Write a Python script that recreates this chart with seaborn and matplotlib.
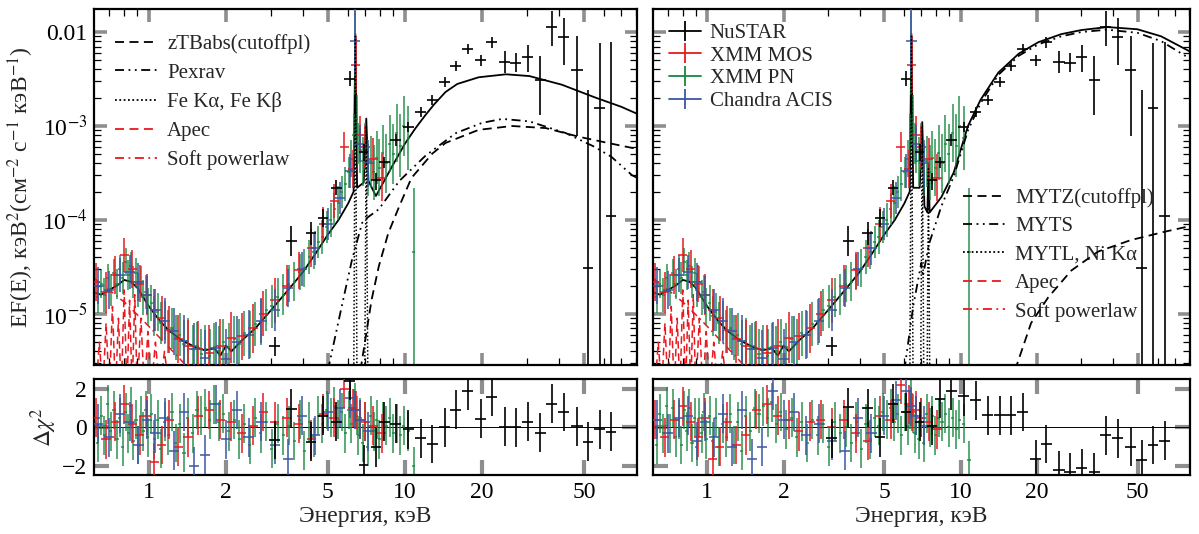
import numpy as np
import pandas as pd
import matplotlib
matplotlib.use("Agg")
import matplotlib.pyplot as plt
import seaborn as sns
from matplotlib.lines import Line2D
from matplotlib.ticker import FixedLocator, FixedFormatter, NullFormatter

# ---------------------------------------------------------------- data
# XMM PN: energy (keV), EF(E), half error (dex), residuals (left fit, right fit)
pn_e = [0.61, 0.63, 0.65, 0.67, 0.69, 0.71, 0.73, 0.75, 0.77, 0.79,
        0.81, 0.83, 0.85, 0.87, 0.89, 0.91, 0.93, 0.95, 0.97, 0.99,
        1.02, 1.05, 1.08, 1.11, 1.15, 1.19, 1.23, 1.27, 1.32, 1.37,
        1.42, 1.48, 1.54, 1.60, 1.66, 1.73, 1.80, 1.87, 1.95, 2.05,
        2.15, 2.25, 2.36, 2.48, 2.60, 2.73, 2.87, 3.02, 3.18, 3.35,
        3.52, 3.70, 3.88, 4.05, 4.22, 4.40, 4.58, 4.76, 4.94, 5.12,
        5.30, 5.48, 5.66, 5.84, 6.02, 6.18, 6.32, 6.40, 6.48, 6.58,
        6.70, 6.85, 7.00, 7.15, 7.35, 7.55, 7.75, 7.95, 8.20, 8.45,
        8.70, 9.00, 9.30, 9.60, 9.90, 10.3, 10.8]
pn_f = [2.0e-5, 1.5e-5, 2.1e-5, 1.6e-5, 2.4e-5, 1.8e-5, 2.7e-5, 2.1e-5, 3.0e-5, 2.4e-5,
        3.6e-5, 2.6e-5, 3.2e-5, 2.2e-5, 2.7e-5, 1.8e-5, 2.2e-5, 1.5e-5, 1.7e-5, 1.2e-5,
        1.3e-5, 9.5e-6, 1.05e-5, 8.0e-6, 8.5e-6, 6.5e-6, 7.0e-6, 5.6e-6, 6.0e-6, 4.8e-6,
        5.2e-6, 4.2e-6, 4.6e-6, 3.7e-6, 4.2e-6, 3.6e-6, 4.4e-6, 4.0e-6, 5.0e-6, 4.4e-6,
        5.4e-6, 4.8e-6, 6.2e-6, 6.0e-6, 7.8e-6, 8.2e-6, 1.1e-5, 1.2e-5, 1.5e-5, 1.6e-5,
        2.1e-5, 2.2e-5, 2.8e-5, 3.1e-5, 4.0e-5, 4.6e-5, 5.8e-5, 6.6e-5, 8.5e-5, 1.0e-4,
        1.3e-4, 1.5e-4, 2.0e-4, 2.4e-4, 3.2e-4, 4.5e-4, 8.0e-4, 6.0e-3, 1.2e-3, 6.5e-4,
        5.5e-4, 4.2e-4, 6.0e-4, 3.4e-4, 4.2e-4, 3.2e-4, 4.6e-4, 3.6e-4, 5.2e-4, 4.0e-4,
        6.5e-4, 5.0e-4, 8.5e-4, 6.2e-4, 1.0e-3, 7.5e-4, 4.6e-5]
pn_dex = [0.15, 0.17, 0.15, 0.18, 0.15, 0.17, 0.15, 0.16, 0.15, 0.17,
          0.15, 0.16, 0.15, 0.17, 0.16, 0.18, 0.17, 0.19, 0.18, 0.20,
          0.19, 0.21, 0.20, 0.22, 0.21, 0.23, 0.22, 0.24, 0.23, 0.25,
          0.24, 0.26, 0.25, 0.27, 0.26, 0.28, 0.26, 0.27, 0.25, 0.26,
          0.25, 0.26, 0.24, 0.25, 0.23, 0.24, 0.22, 0.23, 0.21, 0.22,
          0.20, 0.21, 0.19, 0.20, 0.18, 0.19, 0.17, 0.18, 0.17, 0.18,
          0.17, 0.18, 0.17, 0.18, 0.17, 0.20, 0.22, 0.45, 0.25, 0.22,
          0.24, 0.26, 0.25, 0.28, 0.27, 0.29, 0.28, 0.30, 0.29, 0.31,
          0.30, 0.32, 0.31, 0.33, 0.32, 0.34, 0.68]
pn_last_lo_dex = 2.5   # lower error of the 10.8 keV PN point runs off the axis
pn_res_l = [0.3, -0.8, 0.6, -0.4, 1.2, -0.2, 0.9, -0.6, 0.5, -1.0,
            0.8, -0.3, 1.1, -0.7, 0.4, -0.9, 0.6, -0.2, 0.9, -0.5,
            0.7, -0.6, 0.4, -1.1, 0.3, -0.4, 0.8, -0.8, 0.2, -1.3,
            0.5, -0.3, 0.9, 0.6, 1.0, 0.4, 1.2, 0.3, 0.7, -0.2,
            0.4, -0.6, 0.2, -0.9, 0.5, -0.3, 0.3, -1.1, 0.2, -0.4,
            0.1, -0.7, 0.4, -1.2, 0.3, -0.5, 0.6, 0.2, 0.9, 0.5,
            1.1, 0.4, 0.8, -0.3, 0.9, 0.2, 1.0, 1.3, 0.6, -0.4,
            0.5, -0.8, 0.3, -1.0, 0.6, -0.2, 0.4, -0.6, 0.3, 0.1,
            0.5, -0.3, 0.2, -0.4, 0.1, -0.2, -2.0]
pn_res_r = [0.2, -0.9, 0.7, -0.3, 1.1, -0.3, 1.0, -0.5, 0.4, -0.9,
            0.9, -0.2, 1.0, -0.8, 0.5, -1.0, 0.5, -0.3, 0.8, -0.6,
            0.6, -0.7, 0.5, -1.0, 0.2, -0.5, 0.7, -0.9, 0.3, -1.2,
            0.6, -0.2, 1.0, 0.7, 1.1, 0.5, 1.3, 0.2, 0.8, -0.1,
            0.5, -0.5, 0.3, -0.8, 0.4, -0.4, 0.2, -1.0, 0.3, -0.3,
            0.0, -0.8, 0.3, -1.1, 0.2, -0.6, 0.5, 0.1, 0.8, 0.4,
            1.0, 0.3, 0.7, -0.4, 0.8, 0.1, 0.9, 1.5, 0.7, -0.3,
            0.6, -0.6, 0.5, -0.8, 0.7, 0.0, 0.6, -0.4, 0.5, 0.3,
            0.7, 0.0, 0.5, -0.1, 0.4, 0.2, -1.7]

# XMM MOS
mos_e = [0.62, 0.68, 0.74, 0.80, 0.86, 0.92, 0.98, 1.05, 1.12, 1.20,
         1.30, 1.42, 1.56, 1.72, 1.90, 2.10, 2.30, 2.55, 2.80, 3.10,
         3.45, 3.85, 4.30, 4.80, 5.30, 5.80, 6.25, 6.42, 6.65, 7.00,
         7.50, 8.10]
mos_f = [2.2e-5, 1.7e-5, 2.6e-5, 4.2e-5, 3.0e-5, 2.1e-5, 1.6e-5, 1.1e-5, 9.0e-6, 6.8e-6,
         5.4e-6, 4.6e-6, 4.2e-6, 3.8e-6, 4.6e-6, 5.6e-6, 5.8e-6, 7.0e-6, 1.0e-5, 1.4e-5,
         2.0e-5, 2.9e-5, 5.0e-5, 9.0e-5, 1.6e-4, 6.0e-4, 3.5e-4, 4.5e-3, 8.0e-4, 6.0e-4,
         4.5e-4, 2.8e-4]
mos_dex = [0.20, 0.22, 0.20, 0.18, 0.20, 0.20, 0.22, 0.22, 0.24, 0.25,
           0.26, 0.27, 0.30, 0.30, 0.28, 0.27, 0.25, 0.26, 0.24, 0.24,
           0.22, 0.20, 0.20, 0.18, 0.18, 0.16, 0.20, 0.30, 0.20, 0.22,
           0.22, 0.25]
mos_res_l = [0.5, -0.6, 0.3, 1.2, 0.2, -0.4, 0.6, -1.8, -0.9, 0.4,
             -1.0, -0.5, 0.6, 0.9, 0.4, 0.3, -0.3, 0.1, 0.8, 0.3,
             0.5, 0.2, -0.6, 0.7, 0.5, 2.0, 1.0, 0.9, 0.4, 0.3,
             0.1, -0.3]
mos_res_r = [0.4, -0.5, 0.4, 1.1, 0.3, -0.5, 0.5, -1.6, -1.0, 0.3,
             -0.9, -0.4, 0.9, 1.2, 0.6, 0.4, -0.2, 0.3, 0.4, 0.0,
             0.4, -0.3, -0.7, 0.6, 0.4, 2.2, 1.2, 0.8, 0.9, 0.5,
             0.3, -0.1]

# Chandra ACIS
acis_e = [0.63, 0.70, 0.77, 0.84, 0.91, 0.98, 1.06, 1.15, 1.25, 1.37,
          1.50, 1.65, 1.82, 2.00, 2.20, 2.45, 2.75, 3.10, 3.50, 3.95,
          4.45, 5.00, 5.55, 6.10, 6.40, 6.70, 7.20]
acis_f = [2.0e-5, 1.8e-5, 2.6e-5, 2.8e-5, 2.2e-5, 1.6e-5, 1.1e-5, 8.5e-6, 6.5e-6, 5.2e-6,
          4.2e-6, 3.4e-6, 4.3e-6, 3.3e-6, 5.0e-6, 6.0e-6, 8.5e-6, 1.1e-5, 1.9e-5, 3.0e-5,
          5.0e-5, 9.0e-5, 1.7e-4, 3.3e-4, 8.0e-3, 6.5e-4, 4.0e-4]
acis_dex = [0.20, 0.20, 0.18, 0.18, 0.20, 0.20, 0.22, 0.24, 0.25, 0.27,
            0.28, 0.30, 0.28, 0.32, 0.28, 0.26, 0.24, 0.22, 0.20, 0.18,
            0.18, 0.17, 0.17, 0.18, 0.35, 0.20, 0.25]
acis_res_l = [0.2, -0.5, 0.7, 0.3, -0.9, 0.4, -0.3, 0.5, -1.2, 0.8,
              -2.0, -1.4, 1.2, -0.6, 0.9, -0.5, 0.3, -0.9, -1.6, 0.6,
              -0.4, 0.8, 1.0, 1.5, 0.9, 0.4, -0.2]
acis_res_r = [0.4, -0.3, 0.5, 0.6, -0.7, 0.3, -0.5, 0.7, -1.0, 0.9,
              -1.6, -1.0, 1.9, 0.4, 0.8, -0.4, 0.2, -0.7, -1.2, 0.5,
              -0.3, 0.6, 1.4, 1.9, 1.1, 0.6, 0.1]

# NuSTAR
nu_e = [3.1, 3.6, 4.3, 4.8, 5.4, 6.1, 6.9, 7.7, 8.3, 9.2,
        10.3, 11.5, 12.8, 14.3, 15.8, 17.6, 19.8, 21.8, 24.5, 27.1,
        30.2, 33.8, 37.4, 41.7, 47.0, 51.9, 57.7, 64.0]
nu_de = [0.15, 0.18, 0.20, 0.22, 0.25, 0.30, 0.30, 0.35, 0.40, 0.45,
         0.50, 0.60, 0.65, 0.70, 0.80, 0.90, 1.00, 1.10, 1.25, 1.40,
         1.50, 1.70, 1.80, 2.00, 2.40, 2.50, 2.80, 3.00]
nu_f = [4.5e-6, 6.0e-5, 7.2e-5, 1.05e-4, 2.2e-4, 3.2e-3, 5.3e-4, 2.65e-4, 4.1e-4, 7.1e-4,
        9.8e-4, 1.41e-3, 1.89e-3, 2.94e-3, 4.35e-3, 6.6e-3, 5.0e-3, 7.8e-3, 4.8e-3, 4.7e-3,
        5.4e-3, 3.1e-3, 1.13e-2, 8.8e-3, 3.9e-3, 3.1e-5, 1.55e-3, 1.1e-4]
nu_up = [0.10, 0.16, 0.12, 0.10, 0.08, 0.08, 0.08, 0.08, 0.06, 0.06,
         0.05, 0.05, 0.05, 0.05, 0.05, 0.05, 0.06, 0.06, 0.12, 0.10,
         0.13, 0.25, 0.17, 0.20, 0.37, 1.89, 0.69, 1.85]
nu_lo = [0.10, 0.16, 0.12, 0.10, 0.08, 0.08, 0.10, 0.10, 0.06, 0.06,
         0.05, 0.05, 0.05, 0.05, 0.05, 0.05, 0.06, 0.06, 0.12, 0.10,
         0.16, 0.37, 0.20, 0.30, 0.70, 3.00, 3.00, 3.00]
nu_res_l = [-0.65, 0.97, -0.73, 0.6, 0.3, 2.4, -1.92, -1.02, 0.3, 0.2,
            -0.1, -0.56, -0.85, 0.0, 0.92, 1.9, 0.46, 1.57, 0.03, 0.0,
            0.29, -0.27, 1.23, 0.8, 0.07, -0.73, -0.1, -0.22]
nu_res_r = [-0.56, 1.05, 1.0, -0.5, 1.22, 0.8, 0.3, 0.1, 1.48, 1.9,
            1.6, 1.4, 0.63, 0.63, 0.63, 0.8, -1.63, -0.85, -2.2, -2.3,
            -2.1, -2.3, -0.4, -0.56, -1.0, -1.67, -0.9, -0.68]

# ---- model components, left fit
tot_l_e = [0.61, 0.65, 0.70, 0.75, 0.80, 0.85, 0.90, 0.95, 1.00, 1.10,
           1.20, 1.35, 1.50, 1.65, 1.80, 1.90, 2.00, 2.10, 2.30, 2.60,
           3.00, 3.50, 4.00, 4.50, 5.00, 5.50, 6.00, 6.30, 6.40, 6.50,
           6.90, 7.06, 7.20, 7.70, 8.90, 10.0, 11.0, 12.0, 13.0, 14.4,
           16.0, 19.4, 24.8, 30.6, 41.0, 55.6, 70.0, 80.6]
tot_l_f = [1.7e-5, 1.6e-5, 1.8e-5, 2.0e-5, 2.3e-5, 2.2e-5, 1.9e-5, 1.5e-5, 1.2e-5, 8.5e-6,
           6.6e-6, 5.2e-6, 4.5e-6, 4.1e-6, 4.3e-6, 3.6e-6, 4.6e-6, 4.0e-6, 5.2e-6, 7.0e-6,
           1.1e-5, 1.8e-5, 2.8e-5, 4.5e-5, 7.0e-5, 1.0e-4, 1.5e-4, 2.0e-4, 9.5e-3, 2.2e-4,
           2.5e-4, 1.2e-3, 2.6e-4, 1.8e-4, 3.7e-4, 6.5e-4, 9.5e-4, 1.3e-3, 1.7e-3, 2.3e-3,
           2.8e-3, 3.3e-3, 3.55e-3, 3.4e-3, 2.75e-3, 2.0e-3, 1.6e-3, 1.35e-3]
cpl_e = [6.7, 7.4, 7.9, 8.6, 9.5, 10.6, 12.8, 14.4, 19.4, 26.2, 35.5, 47.6, 62.0, 80.6]
cpl_f = [2.5e-6, 1.4e-5, 3.2e-5, 7.2e-5, 1.4e-4, 2.8e-4, 5.1e-4, 6.6e-4, 9.1e-4, 1.0e-3,
         9.5e-4, 7.7e-4, 6.6e-4, 5.7e-4]
pex_e = [5.0, 5.66, 6.2, 6.8, 7.1, 7.9, 9.5, 12.0, 15.8, 20.0, 24.0, 30.6, 42.5, 55.0,
         64.0, 77.0, 80.6]
pex_f = [2.5e-6, 1.2e-5, 3.7e-5, 9.3e-5, 1.05e-4, 1.3e-4, 2.6e-4, 4.8e-4, 8.4e-4, 1.08e-3,
         1.19e-3, 1.12e-3, 8.4e-4, 6.0e-4, 4.7e-4, 3.0e-4, 2.8e-4]
feka_e = [6.30, 6.40, 6.50]
feka_f = [1e-6, 9.0e-3, 1e-6]
fekb_e = [6.95, 7.06, 7.17]
fekb_f = [1e-6, 1.0e-3, 1e-6]
nika_e = [7.37, 7.47, 7.57]
nika_f = [1e-6, 3.5e-4, 1e-6]
apec_e = [0.62, 0.64, 0.66, 0.68, 0.70, 0.72, 0.74, 0.76, 0.78, 0.80, 0.82, 0.84,
          0.86, 0.88, 0.90, 0.93, 0.96, 0.99, 1.02, 1.06, 1.10, 1.15, 1.20]
apec_f = [1.5e-6, 5.0e-6, 1.5e-6, 8.0e-6, 1.5e-6, 1.2e-5, 1.5e-6, 9.0e-6, 1.5e-6, 1.8e-5,
          1.5e-6, 1.4e-5, 1.5e-6, 1.6e-5, 1.5e-6, 9.0e-6, 1.5e-6, 6.5e-6, 1.5e-6, 5.0e-6,
          1.5e-6, 4.0e-6, 1.5e-6]
spl_e = [0.61, 0.70, 0.81, 0.95, 1.10, 1.25, 1.40, 1.55]
spl_f = [2.4e-5, 1.8e-5, 1.3e-5, 8.5e-6, 5.6e-6, 3.9e-6, 2.8e-6, 2.1e-6]

# ---- model components, right fit
tot_r_e = [0.61, 0.65, 0.70, 0.75, 0.80, 0.85, 0.90, 0.95, 1.00, 1.10,
           1.20, 1.35, 1.50, 1.65, 1.80, 1.90, 2.00, 2.10, 2.30, 2.60,
           3.00, 3.50, 4.00, 4.50, 5.00, 5.50, 6.00, 6.30, 6.40, 6.50,
           6.90, 7.06, 7.20, 7.40, 7.47, 7.55, 8.40, 9.40, 10.7, 12.0,
           14.1, 17.0, 20.3, 25.0, 30.0, 38.0, 50.0, 62.0, 80.6]
tot_r_f = [1.7e-5, 1.6e-5, 1.8e-5, 2.0e-5, 2.3e-5, 2.2e-5, 1.9e-5, 1.5e-5, 1.2e-5, 8.5e-6,
           6.6e-6, 5.2e-6, 4.5e-6, 4.1e-6, 4.3e-6, 3.6e-6, 4.6e-6, 4.0e-6, 5.2e-6, 7.0e-6,
           1.1e-5, 1.8e-5, 2.8e-5, 4.5e-5, 7.0e-5, 1.0e-4, 1.5e-4, 2.0e-4, 9.5e-3, 2.2e-4,
           2.2e-4, 1.1e-3, 1.4e-4, 1.2e-4, 4.0e-4, 1.2e-4, 1.75e-4, 3.2e-4, 1.0e-3, 1.9e-3,
           3.7e-3, 5.9e-3, 7.8e-3, 9.5e-3, 1.05e-2, 1.13e-2, 1.07e-2, 9.0e-3, 6.2e-3]
myts_e = [6.0, 6.5, 7.0, 7.1, 7.5, 8.4, 9.4, 10.7, 12.0, 14.1, 17.0, 20.3, 25.0, 30.0,
          38.0, 50.0, 62.0, 80.6]
myts_f = [2.5e-6, 1.2e-5, 3.5e-5, 2.5e-5, 5.5e-5, 1.4e-4, 2.9e-4, 9.0e-4, 1.75e-3, 3.5e-3,
          5.6e-3, 7.4e-3, 9.0e-3, 1.0e-2, 1.06e-2, 9.8e-3, 8.0e-3, 5.2e-3]
mytz_e = [16.4, 19.0, 22.2, 27.4, 34.9, 47.0, 64.1, 80.6]
mytz_f = [2.5e-6, 8.0e-6, 1.5e-5, 2.9e-5, 4.6e-5, 6.1e-5, 7.5e-5, 8.6e-5]

# ---------------------------------------------------------------- style
sns.set_theme(style="ticks")
plt.rcParams['font.family'] = ['Liberation Serif', 'DejaVu Serif']
plt.rcParams['mathtext.fontset'] = 'stix'
plt.rcParams['axes.edgecolor'] = 'black'
plt.rcParams['axes.linewidth'] = 1.5

C_NU, C_MOS, C_PN, C_ACIS = 'black', '#e8191f', '#15873d', '#3b56a6'
DASH = (0, (5, 3))
DASHDOT = (0, (5, 2.5, 1, 2.5))
DASHDOTDOT = (0, (5, 2.5, 1, 2.5, 1, 2.5))
DOT = (0, (1, 1.4))
XMIN, XMAX = 0.61, 80.6
YMIN, YMAX = 2.86e-6, 0.0176
FS = 17

fig = plt.figure(figsize=(11.99, 5.34), dpi=100)
axL = fig.add_axes([0.0784, 0.3165, 0.4529, 0.6667])
axR = fig.add_axes([0.5446, 0.3165, 0.4479, 0.6667])
rL = fig.add_axes([0.0784, 0.1105, 0.4529, 0.1798])
rR = fig.add_axes([0.5446, 0.1105, 0.4479, 0.1798])


def xerr_dex(e, d):
    e = np.asarray(e, float)
    return [e - e / 10 ** d, e * 10 ** d - e]


def spectrum(ax, e, f, dlo, dhi, xerr, color, lw, z, alpha=1.0):
    f = np.asarray(f, float)
    dlo = np.broadcast_to(np.asarray(dlo, float), f.shape)
    dhi = np.broadcast_to(np.asarray(dhi, float), f.shape)
    yerr = [f - f / 10 ** dlo, f * 10 ** dhi - f]
    ax.errorbar(e, f, yerr=yerr, xerr=xerr, fmt='none', ecolor=color,
                elinewidth=lw, capsize=0, zorder=z, alpha=alpha)


def resid(ax, e, r, xerr, color, lw, z, alpha=1.0):
    ax.errorbar(e, r, yerr=1.0, xerr=xerr, fmt='none', ecolor=color,
                elinewidth=lw, capsize=0, zorder=z, alpha=alpha)


def model(ax, e, f, color, ls, lw=1.3, z=6):
    df = pd.DataFrame({'E': e, 'F': f})
    sns.lineplot(data=df, x='E', y='F', ax=ax, color=color, lw=lw,
                 estimator=None, sort=False, zorder=z)
    ax.lines[-1].set_linestyle(ls)


for ax in (axL, axR):
    ax.set_xscale('log')
    ax.set_yscale('log')
    ax.set_xlim(XMIN, XMAX)
    ax.set_ylim(YMIN, YMAX)
for ax in (rL, rR):
    ax.set_xscale('log')
    ax.set_xlim(XMIN, XMAX)
    ax.set_ylim(-2.45, 2.5)

pn_dex_lo = list(pn_dex[:-1]) + [pn_last_lo_dex]

# ---- spectra
for ax in (axL, axR):
    spectrum(ax, pn_e, pn_f, pn_dex_lo, pn_dex, xerr_dex(pn_e, 0.006), C_PN, 1.1, 2, 0.9)
    spectrum(ax, mos_e, mos_f, mos_dex, mos_dex, xerr_dex(mos_e, 0.018), C_MOS, 1.1, 3)
    spectrum(ax, acis_e, acis_f, acis_dex, acis_dex, xerr_dex(acis_e, 0.02), C_ACIS, 1.1, 3)
    spectrum(ax, nu_e, nu_f, nu_lo, nu_up, nu_de, C_NU, 1.2, 4)
    model(ax, apec_e, apec_f, C_MOS, DASH, lw=1.1, z=1.6)
    model(ax, spl_e, spl_f, C_MOS, DASHDOT, lw=1.1, z=1.6)
    model(ax, feka_e, feka_f, 'black', DOT, lw=1.1)
    model(ax, fekb_e, fekb_f, 'black', DOT, lw=1.1)

model(axL, cpl_e, cpl_f, 'black', DASH)
model(axL, pex_e, pex_f, 'black', DASHDOTDOT)
model(axL, tot_l_e, tot_l_f, 'black', '-', lw=1.3, z=1.8)

model(axR, nika_e, nika_f, 'black', DOT, lw=1.1)
model(axR, mytz_e, mytz_f, 'black', DASH)
model(axR, myts_e, myts_f, 'black', DASHDOTDOT)
model(axR, tot_r_e, tot_r_f, 'black', '-', lw=1.3, z=1.8)

# ---- residuals
for ax, pr, mr, ar, nr in ((rL, pn_res_l, mos_res_l, acis_res_l, nu_res_l),
                           (rR, pn_res_r, mos_res_r, acis_res_r, nu_res_r)):
    ax.axhline(0, color='black', lw=0.7, zorder=1)
    resid(ax, pn_e, pr, xerr_dex(pn_e, 0.006), C_PN, 1.1, 2, 0.9)
    resid(ax, mos_e, mr, xerr_dex(mos_e, 0.018), C_MOS, 1.1, 3)
    resid(ax, acis_e, ar, xerr_dex(acis_e, 0.02), C_ACIS, 1.1, 3)
    resid(ax, nu_e, nr, nu_de, C_NU, 1.2, 4)

# ---- ticks
xmaj = [1, 2, 5, 10, 20, 50]
xmin_ = [0.7, 0.8, 0.9, 3, 4, 6, 7, 8, 9, 30, 40, 60, 70, 80]
ymaj = [1e-5, 1e-4, 1e-3, 1e-2]
ymin_ = [m * 10.0 ** k for k in (-6, -5, -4, -3) for m in range(2, 10)]
for ax in (axL, axR, rL, rR):
    ax.xaxis.set_major_locator(FixedLocator(xmaj))
    ax.xaxis.set_major_formatter(FixedFormatter(['1', '2', '5', '10', '20', '50']))
    ax.xaxis.set_minor_formatter(NullFormatter())
    ax.tick_params(which='major', direction='in', length=9, width=2.6,
                   color='#8e8e8e', top=True, right=True, labelsize=FS,
                   labelcolor='black', pad=5)
    ax.tick_params(which='minor', direction='in', length=5, width=0.9,
                   color='black', top=True, right=True)
    for s in ax.spines.values():
        s.set_linewidth(1.6)
        s.set_color('black')
for ax in (axL, axR):
    ax.xaxis.set_minor_locator(FixedLocator(xmin_))
    ax.yaxis.set_major_locator(FixedLocator(ymaj))
    ax.yaxis.set_minor_locator(FixedLocator(ymin_))
    ax.yaxis.set_minor_formatter(NullFormatter())
    ax.tick_params(axis='x', labelbottom=False)
    ax.set_xlabel('')
    ax.set_ylabel('')
axL.yaxis.set_major_formatter(FixedFormatter(['10$^{-5}$', '10$^{-4}$', '10$^{-3}$', '0.01']))
axR.yaxis.set_major_formatter(NullFormatter())
for ax in (rL, rR):
    ax.xaxis.set_minor_locator(FixedLocator([]))
    ax.yaxis.set_major_locator(FixedLocator([-2, 0, 2]))
    ax.tick_params(which='major', length=11, width=3)
    ax.set_xlabel('Энергия, кэВ', fontsize=FS, labelpad=2)
    ax.set_ylabel('')
rL.yaxis.set_major_formatter(FixedFormatter(['\u22122', '0', '2']))
rR.yaxis.set_major_formatter(NullFormatter())

axL.set_ylabel('EF(E), кэВ$^2$(см$^{-2}$ с$^{-1}$ кэВ$^{-1}$)', fontsize=FS, labelpad=4)
rL.set_ylabel(r'$\Delta\chi^2$', fontsize=FS, labelpad=2)

# ---- legends
leg_kw = dict(frameon=False, fontsize=15, loc='upper left', borderaxespad=0, borderpad=0)
h_left = [Line2D([], [], color='black', lw=1.3, ls=DASH),
          Line2D([], [], color='black', lw=1.3, ls=DASHDOTDOT),
          Line2D([], [], color='black', lw=1.3, ls=DOT),
          Line2D([], [], color=C_MOS, lw=1.3, ls=DASH),
          Line2D([], [], color=C_MOS, lw=1.3, ls=DASHDOT)]
axL.legend(h_left, ['zTBabs(cutoffpl)', 'Pexrav', 'Fe Kα, Fe Kβ', 'Apec', 'Soft powerlaw'],
           bbox_to_anchor=(0.0386, 0.93), handlelength=2.0, handletextpad=0.5,
           labelspacing=0.45, **leg_kw)

h_inst = [Line2D([], [], color=c, lw=1.3, marker='|', markersize=14, markeredgewidth=1.3)
          for c in (C_NU, C_MOS, C_PN, C_ACIS)]
leg1 = axR.legend(h_inst, ['NuSTAR', 'XMM MOS', 'XMM PN', 'Chandra ACIS'],
                  bbox_to_anchor=(0.03, 0.96), handlelength=1.55, handletextpad=0.4,
                  labelspacing=0.15, **leg_kw)
axR.add_artist(leg1)
h_right = [Line2D([], [], color='black', lw=1.3, ls=DASH),
           Line2D([], [], color='black', lw=1.3, ls=DASHDOTDOT),
           Line2D([], [], color='black', lw=1.3, ls=DOT),
           Line2D([], [], color=C_MOS, lw=1.3, ls=DASH),
           Line2D([], [], color=C_MOS, lw=1.3, ls=DASHDOT)]
axR.legend(h_right, ['MYTZ(cutoffpl)', 'MYTS', 'MYTL, Ni Kα', 'Apec', 'Soft powerlaw'],
           bbox_to_anchor=(0.577, 0.497), handlelength=2.0, handletextpad=0.5,
           labelspacing=0.42, **leg_kw)

fig.savefig('out.png', dpi=100)
